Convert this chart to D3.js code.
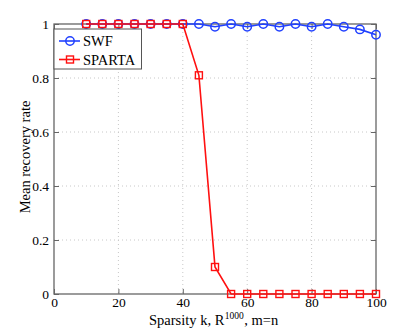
<!DOCTYPE html>
<html><head><meta charset="utf-8">
<script src="https://cdn.jsdelivr.net/npm/d3@7"></script>
<style>body{margin:0;background:#fff}svg text{font-family:"Liberation Serif","Times New Roman",serif;fill:#000}</style>
</head><body><svg id="c" width="415" height="331"></svg>
<script>
const kValues = [10,15,20,25,30,35,40,45,50,55,60,65,70,75,80,85,90,95,100];
const swf =    [1,1,1,1,1,1,1,1,0.99,1,0.99,1,0.99,1,0.99,1,0.99,0.98,0.96];
const sparta = [1,1,1,1,1,1,1,0.81,0.1,0,0,0,0,0,0,0,0,0,0];
const xTicks = [0,20,40,60,80,100];
const yTicks = [0,0.2,0.4,0.6,0.8,1];
const seriesNames = ["SWF","SPARTA"];

const svg = d3.select("#c");
const L=54,R=376,T=24,B=294;
const x = d3.scaleLinear().domain([0,100]).range([L,R]);
const y = d3.scaleLinear().domain([0,1]).range([B,T]);

// grid
const g = svg.append("g");
xTicks.slice(1,-1).forEach(t=>g.append("line").attr("x1",x(t)).attr("x2",x(t)).attr("y1",T).attr("y2",B)
  .attr("stroke","#c8c8c8").attr("stroke-width",1).attr("stroke-dasharray","1,3"));
yTicks.slice(1,-1).forEach(t=>g.append("line").attr("x1",L).attr("x2",R).attr("y1",y(t)).attr("y2",y(t))
  .attr("stroke","#c8c8c8").attr("stroke-width",1).attr("stroke-dasharray","1,3"));

// axes
const fmt = d=>d3.format("~g")(d);
const tf = 13.5;
svg.append("g").attr("transform",`translate(0,${B})`).call(d3.axisBottom(x).tickValues(xTicks).tickSize(-5).tickPadding(3).tickFormat(fmt))
  .call(a=>{a.select(".domain").remove();a.selectAll("line").attr("stroke","#666");a.selectAll("text").attr("font-size",tf).attr("font-family","Liberation Serif");});
svg.append("g").attr("transform",`translate(0,${T})`).call(d3.axisTop(x).tickValues(xTicks).tickSize(-5).tickFormat(""))
  .call(a=>{a.select(".domain").remove();a.selectAll("line").attr("stroke","#666");});
svg.append("g").attr("transform",`translate(${L},0)`).call(d3.axisLeft(y).tickValues(yTicks).tickSize(-5).tickPadding(5).tickFormat(fmt))
  .call(a=>{a.select(".domain").remove();a.selectAll("line").attr("stroke","#666");a.selectAll("text").attr("font-size",tf).attr("font-family","Liberation Serif");});
svg.append("g").attr("transform",`translate(${R},0)`).call(d3.axisRight(y).tickValues(yTicks).tickSize(-5).tickFormat(""))
  .call(a=>{a.select(".domain").remove();a.selectAll("line").attr("stroke","#666");});
svg.append("rect").attr("x",L).attr("y",T).attr("width",R-L).attr("height",B-T)
  .attr("fill","none").attr("stroke","#666").attr("stroke-width",1.3);

// series
const line = d3.line().x((d,i)=>x(kValues[i])).y(d=>y(d));
const blue="#2040ff", red="#ff1010";
svg.append("path").datum(swf).attr("d",line).attr("fill","none").attr("stroke",blue).attr("stroke-width",1.6);
svg.selectAll(".c").data(swf).enter().append("circle").attr("cx",(d,i)=>x(kValues[i])).attr("cy",d=>y(d))
  .attr("r",4.2).attr("fill","none").attr("stroke",blue).attr("stroke-width",1.5);
svg.append("path").datum(sparta).attr("d",line).attr("fill","none").attr("stroke",red).attr("stroke-width",1.6);
svg.selectAll(".s").data(sparta).enter().append("rect").attr("x",(d,i)=>x(kValues[i])-3.5).attr("y",d=>y(d)-3.5)
  .attr("width",7).attr("height",7).attr("fill","none").attr("stroke",red).attr("stroke-width",1.4);

// legend
const lg = svg.append("g");
lg.append("rect").attr("x",L).attr("y",29).attr("width",87.5).attr("height",40).attr("fill","#fff").attr("stroke","#555").attr("stroke-width",1);
[[blue,"c"],[red,"s"]].forEach(([col,m],i)=>{
  const yy = 41+i*18.5;
  lg.append("line").attr("x1",59).attr("x2",80).attr("y1",yy).attr("y2",yy).attr("stroke",col).attr("stroke-width",1.6);
  if(m==="c") lg.append("circle").attr("cx",70).attr("cy",yy).attr("r",4.2).attr("fill","none").attr("stroke",col).attr("stroke-width",1.5);
  else lg.append("rect").attr("x",66.5).attr("y",yy-3.5).attr("width",7).attr("height",7).attr("fill","none").attr("stroke",col).attr("stroke-width",1.4);
  lg.append("text").attr("x",83).attr("y",yy+5).attr("font-size",14.5).text(seriesNames[i]);
});

// x label, built from separate pieces so the superscript sits beside "R"
const xg = svg.append("g");
const base = 325;
const p1 = xg.append("text").attr("y",base).attr("font-size",14.5).text("Sparsity k, R");
const p2 = xg.append("text").attr("y",base-6).attr("font-size",9.5).text("1000");
const p3 = xg.append("text").attr("y",base).attr("font-size",14.5).text(", m=n");
const w1 = p1.node().getComputedTextLength(), w2 = p2.node().getComputedTextLength();
const x0 = 149;
p1.attr("x",x0); p2.attr("x",x0+w1+0.5); p3.attr("x",x0+w1+w2+1);

svg.append("text").attr("transform",`translate(30,${(T+B)/2-2}) rotate(-90)`).attr("text-anchor","middle").attr("font-size",14.5).text("Mean recovery rate");
</script></body></html>
